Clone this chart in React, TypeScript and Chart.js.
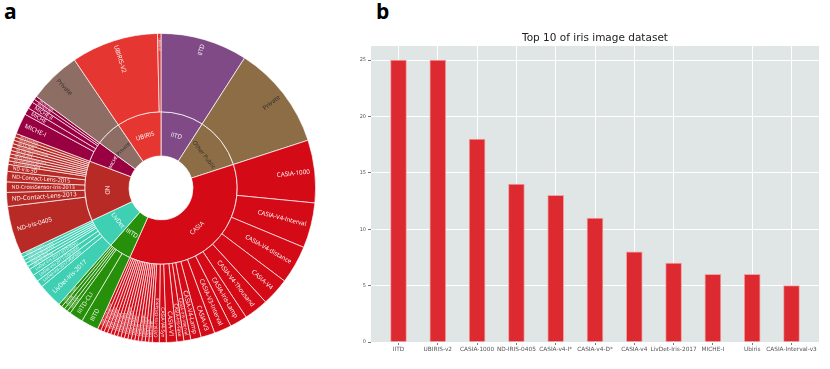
import React, { useEffect, useRef } from 'react';
import { Chart, registerables } from 'chart.js';

Chart.register(...registerables);

// ---------- Panel a: sunburst (inner ring = dataset families) ----------
const groupNames = ['IITD', 'Other Public', 'CASIA', 'IIITD', 'LivDet', 'ND', 'MICHE', 'Private', 'UBIRIS'];
const groupValues = [25, 30, 101, 13, 18, 35, 12, 15, 26];
const groupColors = ['#7f4a86', '#8c6d46', '#d40a17', '#27900a', '#3fcfb3', '#b82a26', '#990041', '#8e6e64', '#e53631'];
const groupTextColors = ['#ffffff', '#2b2b2b', '#ffffff', '#ffffff', '#ffffff', '#ffffff', '#ffffff', '#2b2b2b', '#ffffff'];

// outer ring = individual datasets
const iitdLeaves = ['IITD'];
const iitdLeafValues = [25];
const otherPublicLeaves = ['Private'];
const otherPublicLeafValues = [30];
const casiaLeaves = [
  'CASIA-1000', 'CASIA-V4-Interval', 'CASIA-V4-distance', 'CASIA-V4', 'CASIA-V4-Thousand',
  'CASIA-Iris-Lamp', 'CASIA-V3-Interval', 'CASIA-V3', 'CASIA-V4-Lamp', 'CASIA-Iris-Interval',
  'CASIA-Iris-Fake', 'CASIA-V1', 'CASIA-V4-Syn', 'CASIA-Iris-Distance', 'CASIA-Iris-M1',
  'CASIA-Iris-Syn', 'CASIA-Iris-Twins', 'CASIA-Iris-Mobile', 'CASIA-V2', 'CASIA-V3-Lamp',
  'CASIA-V3-Twins', 'CASIA-Iris-Complex', 'CASIA-Iris-Degradation', 'CASIA-Iris-Africa', 'CASIA-V4-Twins',
  'CASIA-Iris-Asia', 'CASIA-V2-Device1', 'CASIA-V2-Device2', 'CASIA-Iris-Print', 'CASIA-Cross-Sensor',
];
const casiaLeafValues = [18, 13, 11, 8, 7, 5, 5, 4, 3, 2, 2, 3, 2, 2, 1, 1, 1, 1, 1, 1, 1, 1, 1, 1, 1, 1, 1, 1, 1, 1];
const iiitdLeaves = ['IIITD', 'IIITD-CLI', 'IIITD-CSD', 'IIITD-WVU', 'IIITD-IIS', 'IIITD-CLI-Cogent'];
const iiitdLeafValues = [5, 4, 1, 1, 1, 1];
const livdetLeaves = [
  'LivDet-Iris-2017', 'LivDet-Iris-2017-Warsaw', 'LivDet-Iris-2017-Clarkson', 'LivDet-Iris-2017-IIITD-WVU',
  'LivDet-Iris-2017-ND', 'LivDet-Iris-2015', 'LivDet-Iris-2015-Warsaw', 'LivDet-Iris-2015-Clarkson', 'LivDet-Iris-2013',
];
const livdetLeafValues = [7, 2, 2, 2, 1, 1, 1, 1, 1];
const ndLeaves = [
  'ND-Iris-0405', 'ND-Contact-Lens-2013', 'ND-CrossSensor-Iris-2013', 'ND-Contact-Lens-2015', 'ND-Iris-3D',
  'ND-Iris-Template-Aging', 'ND-TimeLapseIris-2012', 'ND-Iris-Contact-Lenses-2010', 'ND-CLD-2013', 'ND-CLD-2015',
  'ND-Cosmetic-Contact-Lenses', 'ND-Iris-Twins', 'ND-Iris-LG2200', 'ND-Iris-LG4000',
];
const ndLeafValues = [14, 4, 3, 3, 2, 1, 1, 1, 1, 1, 1, 1, 1, 1];
const micheLeaves = ['MICHE-I', 'MICHE', 'MICHE-II', 'MICHE-II-iP5', 'MICHE-II-GS4'];
const micheLeafValues = [6, 2, 2, 1, 1];
const privateLeaves = ['Private'];
const privateLeafValues = [15];
const ubirisLeaves = ['UBIRIS-V2', 'UBIRIS-V1'];
const ubirisLeafValues = [25, 1];

// ---------- Panel b: bar chart ----------
const barTitle = 'Top 10 of iris image dataset';
const barLabels = ['IITD', 'UBIRIS-v2', 'CASIA-1000', 'ND-IRIS-0405', 'CASIA-v4-I*', 'CASIA-v4-D*', 'CASIA-v4', 'LivDet-Iris-2017', 'MICHE-I', 'Ubiris', 'CASIA-Interval-v3'];
const barValues = [25, 25, 18, 14, 13, 11, 8, 7, 6, 6, 5];
const yTickValues = [0, 5, 10, 15, 20, 25];

const leafGroups = [
  [iitdLeaves, iitdLeafValues],
  [otherPublicLeaves, otherPublicLeafValues],
  [casiaLeaves, casiaLeafValues],
  [iiitdLeaves, iiitdLeafValues],
  [livdetLeaves, livdetLeafValues],
  [ndLeaves, ndLeafValues],
  [micheLeaves, micheLeafValues],
  [privateLeaves, privateLeafValues],
  [ubirisLeaves, ubirisLeafValues],
] as [string[], number[]][];

const leafNames: string[] = [];
const leafValues: number[] = [];
const leafColors: string[] = [];
const leafTextColors: string[] = [];
leafGroups.forEach(([names, vals], g) => {
  names.forEach((n, i) => {
    leafNames.push(n);
    leafValues.push(vals[i]);
    leafColors.push(groupColors[g]);
    leafTextColors.push(groupTextColors[g]);
  });
});

const FONT = '"Open Sans", "DejaVu Sans", sans-serif';

const sunburstLabels = {
  id: 'sunburstLabels',
  afterDatasetsDraw(chart: any) {
    const ctx = chart.ctx as CanvasRenderingContext2D;
    chart.data.datasets.forEach((ds: any, di: number) => {
      const meta = chart.getDatasetMeta(di);
      meta.data.forEach((arc: any, i: number) => {
        const p = arc.getProps(['x', 'y', 'startAngle', 'endAngle', 'innerRadius', 'outerRadius'], true);
        const text: string = ds.names[i];
        const span = p.endAngle - p.startAngle;
        const mid = (p.startAngle + p.endAngle) / 2;
        const thick = p.outerRadius - p.innerRadius;
        ctx.save();
        ctx.font = `10px ${FONT}`;
        const c = ctx.measureText(text).width / 10;
        let fs = 6.2;
        if (ds.ring === 'outer') {
          const anchor = p.outerRadius - 5;
          const maxLen = thick - 9;
          fs = Math.min(fs, maxLen / c, (span * 0.9 * anchor) / (1 + span * 0.9 * c));
          if (fs < 1.3) { ctx.restore(); return; }
          ctx.font = `${fs}px ${FONT}`;
          ctx.fillStyle = ds.textColors[i];
          ctx.textBaseline = 'middle';
          ctx.translate(p.x, p.y);
          if (Math.cos(mid) >= 0) {
            ctx.rotate(mid);
            ctx.textAlign = 'right';
            ctx.fillText(text, anchor, 0);
          } else {
            ctx.rotate(mid + Math.PI);
            ctx.textAlign = 'left';
            ctx.fillText(text, -anchor, 0);
          }
        } else {
          const rm = (p.innerRadius + p.outerRadius) / 2;
          fs = Math.min(fs, thick * 0.7, (span * rm * 0.92) / c);
          if (fs < 1.3) { ctx.restore(); return; }
          ctx.font = `${fs}px ${FONT}`;
          ctx.fillStyle = ds.textColors[i];
          ctx.textBaseline = 'middle';
          ctx.textAlign = 'center';
          ctx.translate(p.x + rm * Math.cos(mid), p.y + rm * Math.sin(mid));
          let rot = mid + Math.PI / 2;
          while (rot > Math.PI / 2) rot -= Math.PI;
          while (rot <= -Math.PI / 2) rot += Math.PI;
          ctx.rotate(rot);
          ctx.fillText(text, 0, 0);
        }
        ctx.restore();
      });
    });
  },
};

const plotBackground = {
  id: 'plotBackground',
  beforeDraw(chart: any) {
    const { ctx, chartArea } = chart;
    ctx.save();
    ctx.fillStyle = '#e0e6e6';
    ctx.fillRect(chartArea.left, chartArea.top, chartArea.right - chartArea.left, chartArea.bottom - chartArea.top);
    ctx.restore();
  },
};

// title centred over the plotting area (as in the reference)
const plotTitle = {
  id: 'plotTitle',
  afterDraw(chart: any) {
    const { ctx, chartArea } = chart;
    ctx.save();
    ctx.font = '10.5px "DejaVu Sans", sans-serif';
    ctx.fillStyle = '#222222';
    ctx.textAlign = 'center';
    ctx.textBaseline = 'middle';
    ctx.fillText(barTitle, (chartArea.left + chartArea.right) / 2, chartArea.top - 8);
    ctx.restore();
  },
};

export default function App() {
  const sunRef = useRef<HTMLCanvasElement>(null);
  const barRef = useRef<HTMLCanvasElement>(null);

  useEffect(() => {
    const sun = new Chart(sunRef.current as HTMLCanvasElement, {
      type: 'doughnut',
      data: {
        labels: leafNames,
        datasets: [
          {
            data: leafValues,
            backgroundColor: leafColors,
            borderColor: 'rgba(255,255,255,0.85)',
            borderWidth: 0.8,
            weight: 78,
            names: leafNames,
            textColors: leafTextColors,
            ring: 'outer',
          } as any,
          {
            data: groupValues,
            backgroundColor: groupColors,
            borderColor: 'rgba(255,255,255,0.9)',
            borderWidth: 0.8,
            weight: 44,
            names: groupNames,
            textColors: groupTextColors,
            ring: 'inner',
          } as any,
        ],
      },
      options: {
        responsive: false,
        animation: false,
        cutout: 32,
        layout: { padding: 0 },
        plugins: { legend: { display: false }, tooltip: { enabled: false } },
      } as any,
      plugins: [sunburstLabels],
    });

    const tickFont = { family: '"DejaVu Sans", sans-serif', size: 5.8 };
    const bar = new Chart(barRef.current as HTMLCanvasElement, {
      type: 'bar',
      data: {
        datasets: [
          {
            data: barValues.map((v, i) => ({ x: i, y: v })),
            backgroundColor: '#dd2a31',
            borderColor: '#f0a3a3',
            borderWidth: 1,
            barThickness: 16,
          } as any,
        ],
      },
      options: {
        responsive: false,
        animation: false,
        layout: { padding: { left: 0, right: 11, top: 46, bottom: 0 } },
        plugins: {
          legend: { display: false },
          tooltip: { enabled: false },
          title: { display: false },
        },
        scales: {
          x: {
            type: 'linear',
            offset: false,
            min: -0.7,
            max: 10.7,
            afterBuildTicks: (s: any) => { s.ticks = barLabels.map((_, i) => ({ value: i })); },
            afterFit: (s: any) => { s.height = 27; },
            ticks: {
              callback: (v: any) => barLabels[v] ?? '',
              font: tickFont,
              color: '#555555',
              maxRotation: 0,
              autoSkip: false,
              padding: 1,
            },
            grid: {
              offset: false,
              color: (c: any) => (c.index === 8 ? 'rgba(0,0,0,0)' : '#ffffff'),
              lineWidth: 1,
              tickColor: '#777777',
              tickLength: 3,
            },
            border: { display: false },
          },
          y: {
            min: 0,
            max: 26.25,
            afterBuildTicks: (s: any) => { s.ticks = yTickValues.map((v) => ({ value: v })); },
            afterFit: (s: any) => { s.width = 31; },
            ticks: { font: { family: '"DejaVu Sans", sans-serif', size: 5 }, color: '#555555', padding: 2 },
            grid: { color: '#ffffff', lineWidth: 1, tickColor: '#777777', tickLength: 3 },
            border: { display: false },
          },
        },
      } as any,
      plugins: [plotBackground, plotTitle],
    });

    return () => {
      sun.destroy();
      bar.destroy();
    };
  }, []);

  const letter: React.CSSProperties = {
    position: 'absolute',
    top: 1,
    font: `bold 21px ${FONT}`,
    lineHeight: '21px',
    color: '#000',
  };

  return (
    <div style={{ position: 'fixed', left: 0, top: 0, width: 830, height: 369, background: '#fff', overflow: 'hidden' }}>
      <div style={{ ...letter, left: 4 }}>a</div>
      <div style={{ ...letter, left: 376 }}>b</div>
      <canvas ref={sunRef} width={310} height={310} style={{ position: 'absolute', left: 6, top: 33, width: 310, height: 310 }} />
      <canvas ref={barRef} width={490} height={369} style={{ position: 'absolute', left: 340, top: 0, width: 490, height: 369 }} />
    </div>
  );
}
